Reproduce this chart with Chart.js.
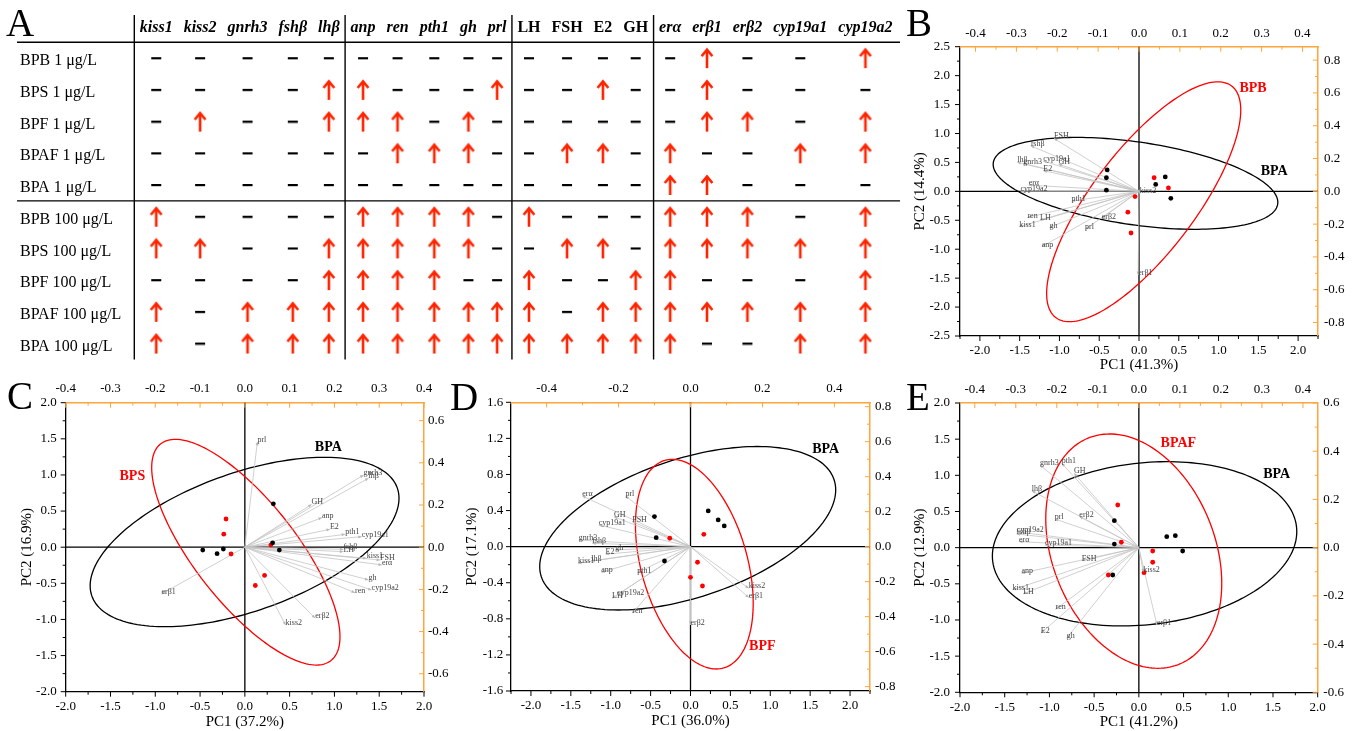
<!DOCTYPE html>
<html>
<head>
<meta charset="utf-8">
<script src="https://cdn.jsdelivr.net/npm/chart.js@4.4.1/dist/chart.umd.min.js"></script>
<style>
  body { margin: 0; background: #fff; width: 1355px; height: 731px; position: relative; overflow: hidden; }
  canvas { position: absolute; }
  .tag { position: absolute; z-index: 5; font: 39px/39px 'Liberation Serif', serif; color: #000; }
</style>
</head>
<body>
<canvas id="tbl" width="905" height="372" style="left:0;top:0"></canvas>
<canvas id="pcaB" width="455" height="380" style="left:900px;top:0"></canvas>
<canvas id="pcaC" width="460" height="359" style="left:0;top:372px"></canvas>
<canvas id="pcaD" width="460" height="359" style="left:440px;top:372px"></canvas>
<canvas id="pcaE" width="475" height="359" style="left:880px;top:372px"></canvas>
<div class="tag" style="left:6px;top:3px">A</div>
<div class="tag" style="left:906px;top:3px">B</div>
<div class="tag" style="left:7px;top:376px">C</div>
<div class="tag" style="left:450px;top:377px">D</div>
<div class="tag" style="left:906px;top:377px">E</div>
<script>
// ---- table (panel A) ----
const tableGenes = ['kiss1', 'kiss2', 'gnrh3', 'fshβ', 'lhβ', 'anp', 'ren', 'pth1', 'gh', 'prl',
  'LH', 'FSH', 'E2', 'GH', 'erα', 'erβ1', 'erβ2', 'cyp19a1', 'cyp19a2'];
const tableGroupSizes = [5, 5, 4, 5];
const tableRows = ['BPB 1 μg/L', 'BPS 1 μg/L', 'BPF 1 μg/L', 'BPAF 1 μg/L', 'BPA 1 μg/L',
  'BPB 100 μg/L', 'BPS 100 μg/L', 'BPF 100 μg/L', 'BPAF 100 μg/L', 'BPA 100 μg/L'];
// 1 = up-regulated (red arrow), 0 = no change (dash)
const tableUp = [
  [0,0,0,0,0, 0,0,0,0,0, 0,0,0,0, 0,1,0,0,1],
  [0,0,0,0,1, 1,0,0,0,1, 0,0,1,0, 0,1,0,0,0],
  [0,1,0,0,1, 1,1,0,1,0, 0,0,0,0, 0,1,1,0,1],
  [0,0,0,0,0, 0,1,1,1,0, 0,1,1,0, 1,0,0,1,1],
  [0,0,0,0,0, 0,0,0,0,0, 0,0,0,0, 1,1,0,0,0],
  [1,0,0,0,0, 1,1,1,1,0, 1,0,0,0, 1,1,1,0,1],
  [1,1,0,0,1, 1,1,1,1,0, 0,1,1,0, 1,1,1,1,1],
  [0,0,0,0,1, 1,1,1,0,0, 1,0,0,1, 1,0,0,0,1],
  [1,0,1,1,1, 1,1,1,1,1, 1,0,1,1, 1,1,1,1,1],
  [1,0,1,1,1, 1,1,1,1,1, 1,1,1,1, 1,0,0,1,1]
];

// ---- PCA loadings (same gene order as tableGenes) ----
const bLoadPC1 = [-0.293, 0.002, -0.283, -0.265, -0.298, -0.238, -0.273, -0.165, -0.219, -0.132, -0.242, -0.208, -0.234, -0.197, -0.270, -0.002, -0.091, -0.234, -0.290];
const bLoadPC2 = [-0.216, -0.012, 0.170, 0.278, 0.177, -0.338, -0.159, -0.059, -0.220, -0.232, -0.175, 0.323, 0.126, 0.166, 0.038, -0.510, -0.165, 0.185, 0.000];
const cLoadPC1 = [0.272, 0.091, 0.265, 0.220, 0.276, 0.172, 0.246, 0.224, 0.276, 0.028, 0.220, 0.302, 0.190, 0.149, 0.306, -0.186, 0.157, 0.261, 0.283];
const cLoadPC2 = [-0.053, -0.369, 0.342, -0.010, 0.327, 0.140, -0.216, 0.061, -0.155, 0.500, -0.021, -0.061, 0.085, 0.203, -0.084, -0.222, -0.337, 0.050, -0.203];
const dLoadPC1 = [-0.313, 0.162, -0.311, -0.273, -0.276, -0.248, -0.162, -0.148, -0.209, -0.181, -0.218, -0.162, -0.236, -0.213, -0.301, 0.162, 0.000, -0.255, -0.204];
const dLoadPC2 = [-0.095, -0.238, 0.038, 0.019, -0.082, -0.146, -0.381, -0.149, -0.019, 0.290, -0.295, 0.143, -0.043, 0.171, 0.290, -0.291, -0.447, 0.124, -0.276];
const eLoadPC1 = [-0.308, 0.011, -0.241, -0.298, -0.261, -0.286, -0.203, -0.188, -0.176, -0.205, -0.282, -0.139, -0.239, -0.158, -0.292, 0.044, -0.145, -0.229, -0.298];
const eLoadPC2 = [-0.175, -0.102, 0.343, 0.057, 0.236, -0.106, -0.256, 0.350, -0.376, 0.119, -0.192, -0.054, -0.355, 0.309, 0.025, -0.321, 0.129, 0.011, 0.066];

// ---- PCA scores [PC1, PC2] ----
const bScoresBPA = [[-0.40, 0.37], [-0.41, 0.235], [-0.41, 0.02], [0.33, 0.25], [0.21, 0.12], [0.40, -0.12]];
const bScoresBPB = [[0.19, 0.235], [0.37, 0.06], [-0.05, -0.09], [-0.14, -0.36], [-0.10, -0.72]];
const cScoresBPA = [[0.318, 0.60], [0.31, 0.06], [-0.47, -0.04], [-0.31, -0.09], [-0.24, -0.025], [0.385, -0.04]];
const cScoresBPS = [[-0.21, 0.39], [-0.235, 0.18], [-0.154, -0.094], [0.22, -0.39], [0.117, -0.53], [0.29, 0.03]];
const dScoresBPA = [[-0.452, 0.333], [-0.43, 0.10], [-0.326, -0.159], [0.222, 0.396], [0.347, 0.296], [0.423, 0.23]];
const dScoresBPF = [[0.167, 0.137], [-0.26, 0.093], [0.088, -0.173], [0.0, -0.34], [0.15, -0.436]];
const eScoresBPA = [[-0.274, 0.373], [-0.274, 0.05], [-0.292, -0.378], [0.312, 0.152], [0.408, 0.166], [0.49, -0.046]];
const eScoresBPAF = [[-0.236, 0.59], [-0.196, 0.075], [-0.341, -0.378], [0.155, -0.046], [0.155, -0.202], [0.058, -0.346]];

// ---- confidence ellipses: [centre PC1, centre PC2, rightmost dPC1, rightmost dPC2, half height] ----
const bEllipseBPA = [-0.044, 0.138, 1.789, -0.328, 0.794];
const bEllipseBPB = [0.059, -0.18, 1.22, 1.584, 2.073];
const cEllipseBPA = [-0.003, 0.072, 1.724, 0.605, 1.172];
const cEllipseBPS = [0.011, -0.069, 1.051, -1.17, 1.562];
const dEllipseBPA = [-0.035, 0.204, 1.855, 0.425, 0.906];
const dEllipseBPF = [0.048, -0.194, 0.738, -0.433, 1.162];
const eEllipseBPA = [0.064, 0.053, 1.702, 0.169, 1.136];
const eEllipseBPAF = [-0.057, -0.048, 0.984, -0.445, 1.62];

// ---- tick labels ----
const pc1Ticks = [-2.0, -1.5, -1.0, -0.5, 0.0, 0.5, 1.0, 1.5, 2.0];
const pc2TicksB = [-2.5, -2.0, -1.5, -1.0, -0.5, 0.0, 0.5, 1.0, 1.5, 2.0, 2.5];
const pc2TicksCE = [-2.0, -1.5, -1.0, -0.5, 0.0, 0.5, 1.0, 1.5, 2.0];
const pc2TicksD = [-1.6, -1.2, -0.8, -0.4, 0.0, 0.4, 0.8, 1.2, 1.6];
const topTicks = [-0.4, -0.3, -0.2, -0.1, 0.0, 0.1, 0.2, 0.3, 0.4];
const topTicksD = [-0.4, -0.2, 0.0, 0.2, 0.4];
const rightTicks8 = [-0.8, -0.6, -0.4, -0.2, 0.0, 0.2, 0.4, 0.6, 0.8];
const rightTicks6 = [-0.6, -0.4, -0.2, 0.0, 0.2, 0.4, 0.6];

const SERIF = "'Liberation Serif', 'Times New Roman', serif";
const ORANGE = '#ffa53c';
const RED = '#ff0000';
Chart.defaults.font.family = SERIF;
Chart.defaults.color = '#000';

// ---------- panel A ----------
const groupOf = [];
tableGroupSizes.forEach((n, g) => { for (let j = 0; j < n; j++) groupOf.push(g); });
const headerFont = i => (groupOf[i] === 2 ? 'bold ' : 'italic bold ') + '16px ' + SERIF;

function tableColumns(width) {
  const m = document.createElement('canvas').getContext('2d');
  const w = tableGenes.map((g, i) => { m.font = headerFont(i); return m.measureText(g).width; });
  const gap = (width - w.reduce((a, b) => a + b, 0)) / w.length;
  const centers = [], bounds = [];
  let pos = 0, k = 0;
  tableGroupSizes.forEach(n => {
    for (let j = 0; j < n; j++, k++) { centers.push(pos + (w[k] + gap) / 2); pos += w[k] + gap; }
    bounds.push(pos);
  });
  return { centers, bounds };
}

function symbol(kind) {
  const c = document.createElement('canvas');
  const g = c.getContext('2d');
  if (kind === 'up') {
    c.width = 14; c.height = 22;
    g.strokeStyle = 'rgb(255,36,0)'; g.lineWidth = 2.6;
    g.beginPath(); g.moveTo(7, 21); g.lineTo(7, 3); g.stroke();
    g.beginPath(); g.moveTo(1.6, 9); g.lineTo(7, 2.6); g.lineTo(12.4, 9); g.stroke();
  } else {
    c.width = 12; c.height = 4;
    g.fillStyle = '#000'; g.fillRect(1, 1, 10, 2.2);
  }
  return c;
}

const tblWidth = 763.7;
const cols = tableColumns(tblWidth);
const upPts = [], flatPts = [];
tableUp.forEach((row, r) => row.forEach((v, c) => {
  (v ? upPts : flatPts).push({ x: cols.centers[c], y: tableRows[r] });
}));

const tableLines = {
  id: 'tableLines',
  beforeDatasetsDraw(chart) {
    const { ctx, chartArea: a, scales: { x, y } } = chart;
    ctx.save();
    ctx.strokeStyle = '#000';
    ctx.lineWidth = 1.4;
    ctx.beginPath();
    [a.top, y.getPixelForValue(4.5)].forEach(py => { ctx.moveTo(17, py); ctx.lineTo(a.right + 2, py); });
    [0, ...cols.bounds.slice(0, -1)].forEach(v => {
      const px = x.getPixelForValue(v);
      ctx.moveTo(px, 15); ctx.lineTo(px, a.bottom);
    });
    ctx.stroke();
    ctx.restore();
  }
};

new Chart(document.getElementById('tbl'), {
  type: 'scatter',
  data: {
    datasets: [
      { data: upPts, pointStyle: symbol('up'), pointRadius: 5 },
      { data: flatPts, pointStyle: symbol('flat'), pointRadius: 5 }
    ]
  },
  options: {
    responsive: false, animation: false, devicePixelRatio: 1,
    layout: { padding: { left: 20, right: 7, top: 0, bottom: 1.7 } },
    plugins: { legend: { display: false }, tooltip: { enabled: false } },
    scales: {
      x: {
        type: 'linear', position: 'top', min: 0, max: tblWidth,
        grid: { display: false, drawTicks: false }, border: { display: false },
        afterBuildTicks: s => { s.ticks = cols.centers.map(v => ({ value: v })); },
        afterFit: s => { s.height = 42.3; },
        ticks: {
          autoSkip: false, maxRotation: 0, padding: 5,
          callback: (v, i) => tableGenes[i],
          font: ctx => ({ size: 16, weight: 'bold', style: groupOf[ctx.index] === 2 ? 'normal' : 'italic' })
        }
      },
      y: {
        type: 'category', labels: tableRows, offset: true, position: 'left',
        grid: { display: false, drawTicks: false }, border: { display: false },
        afterFit: s => { s.width = 114.3; },
        ticks: { crossAlign: 'far', labelOffset: 3, autoSkip: false, font: { size: 16 } }
      }
    }
  },
  plugins: [tableLines]
});

// ---------- PCA panels ----------
function drawTicks(ctx, s, base, dir, color) {
  const vals = s.ticks.map(t => t.value);
  const step = vals[1] - vals[0];
  const marks = vals.map(v => [v, 5]);
  for (let v = vals[0] - step / 2; v <= s.max + 1e-9; v += step) {
    if (v >= s.min - 1e-9) marks.push([v, 3]);
  }
  ctx.beginPath();
  marks.forEach(([v, len]) => {
    const p = s.getPixelForValue(v);
    if (s.isHorizontal()) { ctx.moveTo(p, base); ctx.lineTo(p, base + dir * len); }
    else { ctx.moveTo(base, p); ctx.lineTo(base + dir * len, p); }
  });
  ctx.strokeStyle = color;
  ctx.lineWidth = 1;
  ctx.stroke();
}

function pcaPlugin(p) {
  return {
    id: 'pca',
    beforeDatasetsDraw(chart) {
      const { ctx, chartArea: a, scales: { x, y } } = chart;
      ctx.save();
      ctx.strokeStyle = '#000';
      ctx.lineWidth = 1.3;
      ctx.beginPath();
      const x0 = x.getPixelForValue(0), y0 = y.getPixelForValue(0);
      ctx.moveTo(x0, a.top); ctx.lineTo(x0, a.bottom);
      ctx.moveTo(a.left, y0); ctx.lineTo(a.right, y0);
      ctx.stroke();
      p.ellipses.forEach(([e, color]) => {
        const [cx, cy, dx, dy, h] = e;
        const vy = Math.sqrt(h * h - dy * dy);
        ctx.beginPath();
        for (let k = 0; k <= 180; k++) {
          const t = k / 180 * 2 * Math.PI;
          const px = x.getPixelForValue(cx + dx * Math.cos(t));
          const py = y.getPixelForValue(cy + dy * Math.cos(t) + vy * Math.sin(t));
          if (k) ctx.lineTo(px, py); else ctx.moveTo(px, py);
        }
        ctx.closePath();
        ctx.strokeStyle = color;
        ctx.lineWidth = 1.3;
        ctx.stroke();
      });
      ctx.restore();
    },
    afterDatasetsDraw(chart) {
      const { ctx, scales: { x, y, x2, y2 } } = chart;
      ctx.save();
      const ox = x2.getPixelForValue(0), oy = y2.getPixelForValue(0);
      ctx.font = '8px ' + SERIF;
      ctx.textAlign = 'left';
      ctx.textBaseline = 'middle';
      p.lx.forEach((lx, i) => {
        const px = x2.getPixelForValue(lx), py = y2.getPixelForValue(p.ly[i]);
        const ang = Math.atan2(py - oy, px - ox);
        ctx.fillStyle = '#b8b8b8';
        ctx.beginPath();
        ctx.moveTo(px, py);
        ctx.lineTo(px - 3.5 * Math.cos(ang) + 1.5 * Math.sin(ang), py - 3.5 * Math.sin(ang) - 1.5 * Math.cos(ang));
        ctx.lineTo(px - 3.5 * Math.cos(ang) - 1.5 * Math.sin(ang), py - 3.5 * Math.sin(ang) + 1.5 * Math.cos(ang));
        ctx.fill();
        ctx.fillStyle = '#444';
        ctx.fillText(tableGenes[i], px, py - 2);
      });
      ctx.font = 'bold 14px ' + SERIF;
      ctx.textAlign = 'center';
      p.names.forEach(([text, color, vx, vy]) => {
        ctx.fillStyle = color;
        ctx.fillText(text, x.getPixelForValue(vx), y.getPixelForValue(vy));
      });
      ctx.restore();
    },
    afterDraw(chart) {
      const { ctx, chartArea: a, scales } = chart;
      ctx.save();
      drawTicks(ctx, scales.x, a.bottom, 1, '#000');
      drawTicks(ctx, scales.x2, a.top, 1, ORANGE);
      drawTicks(ctx, scales.y, a.left, -1, '#000');
      drawTicks(ctx, scales.y2, a.right, -1, ORANGE);
      ctx.restore();
    }
  };
}

function axis(position, range, tickValues, size, pad, color, title, titlePad) {
  return {
    type: 'linear', position, min: range[0], max: range[1],
    grid: { display: false, drawTicks: false },
    border: { display: true, color, width: color === ORANGE ? 1.5 : 1.3 },
    afterBuildTicks: s => { s.ticks = tickValues.map(v => ({ value: v })); },
    afterFit: s => { if (s.isHorizontal()) s.height = size; else s.width = size; },
    ticks: { autoSkip: false, maxRotation: 0, padding: pad, font: { size: 13 }, color: '#000', callback: v => v.toFixed(1) },
    title: { display: !!title, text: title || '', font: { size: 15 }, padding: titlePad || 0 }
  };
}

function pcaChart(id, p) {
  const datasets = p.lx.map((lx, i) => ({
    data: [{ x: 0, y: 0 }, { x: lx, y: p.ly[i] }],
    xAxisID: 'x2', yAxisID: 'y2', showLine: true, pointRadius: 0,
    borderColor: '#c4c4c4', borderWidth: 0.8, order: 2
  }));
  datasets.push({ data: p.bpa.map(([x, y]) => ({ x, y })), pointRadius: 2.4, backgroundColor: '#000', borderWidth: 0, order: 0 });
  datasets.push({ data: p.other.map(([x, y]) => ({ x, y })), pointRadius: 2.4, backgroundColor: RED, borderWidth: 0, order: 0 });
  new Chart(document.getElementById(id), {
    type: 'scatter',
    data: { datasets },
    options: {
      responsive: false, animation: false, devicePixelRatio: 1,
      plugins: { legend: { display: false }, tooltip: { enabled: false } },
      scales: {
        x: axis('bottom', p.xr, pc1Ticks, p.box[3], p.pad[3], '#000', p.t1, { bottom: p.tp[1] }),
        y: axis('left', p.yr, p.yt, p.box[0], p.pad[0], '#000', p.t2, { top: p.tp[0] }),
        x2: axis('top', p.x2r, p.x2t, p.box[1], p.pad[1], ORANGE),
        y2: axis('right', p.y2r, p.y2t, p.box[2], p.pad[2], ORANGE)
      }
    },
    plugins: [pcaPlugin(p)]
  });
}

// box / pad order: left, top, right, bottom
pcaChart('pcaB', {
  lx: bLoadPC1, ly: bLoadPC2, bpa: bScoresBPA, other: bScoresBPB,
  ellipses: [[bEllipseBPA, '#000'], [bEllipseBPB, RED]],
  names: [['BPB', RED, 1.434, 1.784], ['BPA', '#000', 1.70, 0.339]],
  xr: [-2.25, 2.25], yr: [-2.5, 2.5], x2r: [-0.438, 0.438], y2r: [-0.882, 0.882],
  yt: pc2TicksB, x2t: topTicks, y2t: rightTicks8,
  box: [60, 46.7, 37, 44], pad: [10, 5.6, 6, 6.9], tp: [11, 6],
  t1: 'PC1 (41.3%)', t2: 'PC2 (14.4%)'
});
pcaChart('pcaC', {
  lx: cLoadPC1, ly: cLoadPC2, bpa: cScoresBPA, other: cScoresBPS,
  ellipses: [[cEllipseBPA, '#000'], [cEllipseBPS, RED]],
  names: [['BPS', RED, -1.256, 0.976], ['BPA', '#000', 0.932, 1.383]],
  xr: [-2, 2], yr: [-2, 2], x2r: [-0.4, 0.4], y2r: [-0.685, 0.685],
  yt: pc2TicksCE, x2t: topTicks, y2t: rightTicks6,
  box: [65.7, 30.7, 36, 39.3], pad: [9, 5.9, 4, 7.2], tp: [17.7, 0.3],
  t1: 'PC1 (37.2%)', t2: 'PC2 (16.9%)'
});
pcaChart('pcaD', {
  lx: dLoadPC1, ly: dLoadPC2, bpa: dScoresBPA, other: dScoresBPF,
  ellipses: [[dEllipseBPA, '#000'], [dEllipseBPF, RED]],
  names: [['BPA', '#000', 1.694, 1.083], ['BPF', RED, 0.9, -1.101]],
  xr: [-2.25, 2.25], yr: [-1.6, 1.6], x2r: [-0.499, 0.499], y2r: [-0.825, 0.825],
  yt: pc2TicksD, x2t: topTicksD, y2t: rightTicks8,
  box: [71, 30.3, 30, 40], pad: [7.7, 5.5, 5, 7.2], tp: [22.7, 1.3],
  t1: 'PC1 (36.0%)', t2: 'PC2 (17.1%)'
});
pcaChart('pcaE', {
  lx: eLoadPC1, ly: eLoadPC2, bpa: eScoresBPA, other: eScoresBPAF,
  ellipses: [[eEllipseBPA, '#000'], [eEllipseBPAF, RED]],
  names: [['BPAF', RED, 0.442, 1.444], ['BPA', '#000', 1.542, 1.019]],
  xr: [-2, 2], yr: [-2, 2], x2r: [-0.436, 0.436], y2r: [-0.6, 0.6],
  yt: pc2TicksCE, x2t: topTicks, y2t: rightTicks6,
  box: [80, 31, 37.3, 38.7], pad: [10, 5.2, 5.6, 7.6], tp: [31, 0.3],
  t1: 'PC1 (41.2%)', t2: 'PC2 (12.9%)'
});
</script>
</body>
</html>
